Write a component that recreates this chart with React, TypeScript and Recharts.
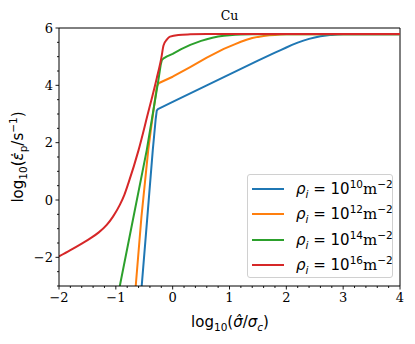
import React from 'react';
import { LineChart, Line, XAxis, YAxis, ReferenceLine } from 'recharts';

const xRho10 = [-0.545, -0.45, -0.35, -0.3, -0.28, -0.26, 0, 0.6, 1.0, 1.5, 1.8, 1.9, 2.0, 2.1, 2.2, 2.3, 2.4, 2.5, 2.6, 2.7, 2.8, 2.9, 3.0, 3.2, 4.0];
const yRho10 = [-3.0, -0.7, 1.74, 2.8, 3.12, 3.17, 3.42, 4.0, 4.38, 4.86, 5.14, 5.23, 5.32, 5.41, 5.49, 5.56, 5.62, 5.67, 5.71, 5.74, 5.76, 5.77, 5.78, 5.78, 5.78];

const xRho12 = [-0.65, -0.55, -0.43, -0.35, -0.28, -0.26, -0.23, 0, 0.3, 0.6, 0.9, 1.1, 1.2, 1.3, 1.4, 1.5, 1.6, 1.7, 1.8, 1.9, 2.0, 2.2, 4.0];
const yRho12 = [-3.0, -0.6, 1.74, 2.95, 3.95, 4.04, 4.09, 4.3, 4.63, 4.97, 5.27, 5.44, 5.52, 5.59, 5.65, 5.69, 5.72, 5.745, 5.76, 5.77, 5.78, 5.78, 5.78];

const xRho14 = [-0.93, -0.7, -0.456, -0.35, -0.25, -0.21, -0.19, -0.16, -0.1, 0, 0.15, 0.31, 0.5, 0.6, 0.7, 0.8, 0.9, 1.0, 1.1, 1.2, 1.4, 4.0];
const yRho14 = [-3.0, -0.7, 1.74, 3.0, 4.2, 4.72, 4.88, 4.94, 5.01, 5.1, 5.26, 5.41, 5.55, 5.61, 5.66, 5.7, 5.73, 5.75, 5.765, 5.775, 5.78, 5.78];

const xRho16 = [-2.0, -1.8, -1.6, -1.45, -1.3, -1.16, -1.05, -0.93, -0.85, -0.78, -0.6, -0.45, -0.28, -0.2, -0.16, -0.1, -0.046, 0.1, 0.31, 0.6, 4.0];
const yRho16 = [-1.97, -1.75, -1.52, -1.34, -1.13, -0.87, -0.58, -0.17, 0.18, 0.58, 1.74, 2.9, 4.25, 4.95, 5.4, 5.6, 5.7, 5.76, 5.78, 5.79, 5.79];

const seriesExponents = ['10', '12', '14', '16'];
const seriesColors = ['#1f77b4', '#ff7f0e', '#2ca02c', '#d62728'];
const seriesCurve: ('linear' | 'monotone')[] = ['linear', 'linear', 'linear', 'monotone'];

const xTicks = [-2, -1.8, -1.6, -1.4, -1.2, -1, -0.8, -0.6, -0.4, -0.2, 0, 0.2, 0.4, 0.6, 0.8, 1, 1.2, 1.4, 1.6, 1.8, 2, 2.2, 2.4, 2.6, 2.8, 3, 3.2, 3.4, 3.6, 3.8, 4];
const yTicks = [-3, -2.5, -2, -1.5, -1, -0.5, 0, 0.5, 1, 1.5, 2, 2.5, 3, 3.5, 4, 4.5, 5, 5.5, 6];
const xMajorLabels = [-2, -1, 0, 1, 2, 3, 4];
const yMajorLabels = [-2, 0, 2, 4, 6];

const toPoints = (xs: number[], ys: number[]) => xs.map((x, i) => ({ x, y: ys[i] }));
const seriesData = [toPoints(xRho10, yRho10), toPoints(xRho12, yRho12), toPoints(xRho14, yRho14), toPoints(xRho16, yRho16)];

const fmt = (v: number) => (v < 0 ? '\u2212' + Math.abs(v) : String(v));
const isMajor = (v: number, list: number[]) => list.some((m) => Math.abs(m - v) < 1e-6);

const XTick = (props: any) => {
  const { x, y, payload } = props;
  const major = isMajor(payload.value, xMajorLabels);
  return (
    <g>
      <line x1={x} x2={x} y1={y} y2={y + (major ? 3.5 : 2)} stroke="#000" strokeWidth={0.9} />
      {major && (
        <text x={x} y={y + 16} textAnchor="middle" fontFamily="DejaVu Serif" fontSize={13} fill="#000">
          {fmt(payload.value)}
        </text>
      )}
    </g>
  );
};

const YTick = (props: any) => {
  const { x, y, payload } = props;
  const major = isMajor(payload.value, yMajorLabels);
  return (
    <g>
      <line x1={x - (major ? 3.5 : 2)} x2={x} y1={y} y2={y} stroke="#000" strokeWidth={0.9} />
      {major && (
        <text x={x - 6} y={y} dy="0.35em" textAnchor="end" fontFamily="DejaVu Serif" fontSize={13} fill="#000">
          {fmt(payload.value)}
        </text>
      )}
    </g>
  );
};

export default function App() {
  return (
    <div style={{ position: 'absolute', left: 0, top: 0, width: 415, height: 344, background: '#fff' }}>
      <LineChart width={415} height={344} margin={{ top: 28, right: 15, bottom: 0, left: 0 }}>
        <XAxis
          type="number"
          dataKey="x"
          domain={[-2, 4]}
          ticks={xTicks}
          interval={0}
          tickSize={0}
          tickMargin={0}
          tickLine={false}
          tick={<XTick />}
          height={58}
          allowDataOverflow
          axisLine={{ stroke: '#000', strokeWidth: 1 }}
        />
        <YAxis
          type="number"
          dataKey="y"
          domain={[-3, 6]}
          ticks={yTicks}
          interval={0}
          tickSize={0}
          tickMargin={0}
          tickLine={false}
          tick={<YTick />}
          width={59}
          allowDataOverflow
          axisLine={{ stroke: '#000', strokeWidth: 1 }}
        />
        <ReferenceLine y={6} stroke="#000" strokeWidth={1} />
        <ReferenceLine x={4} stroke="#000" strokeWidth={1} />
        {seriesData.map((d, i) => (
          <Line
            key={i}
            data={d}
            dataKey="y"
            type={seriesCurve[i]}
            stroke={seriesColors[i]}
            strokeWidth={2}
            strokeLinejoin="round"
            dot={false}
            activeDot={false}
            isAnimationActive={false}
          />
        ))}
      </LineChart>
      <div style={{ position: 'absolute', left: 229.5, top: 15, transform: 'translate(-50%, -50%)', fontFamily: 'DejaVu Serif', fontSize: 12.5, whiteSpace: 'nowrap' }}>
        Cu
      </div>
      <div style={{ position: 'absolute', left: 230, top: 323, transform: 'translate(-50%, -50%)', fontFamily: 'DejaVu Sans', fontSize: 15, whiteSpace: 'nowrap' }}>
        log<sub style={{ fontSize: 10.5 }}>10</sub>(<i>σ̂</i>/<i>σ</i><sub style={{ fontSize: 10.5 }}><i>c</i></sub>)
      </div>
      <div style={{ position: 'absolute', left: 18, top: 157, transform: 'translate(-50%, -50%) rotate(-90deg)', fontFamily: 'DejaVu Sans', fontSize: 15, whiteSpace: 'nowrap' }}>
        log<sub style={{ fontSize: 10.5 }}>10</sub>(<i>ε̇</i><sub style={{ fontSize: 10.5 }}>p</sub>/s<sup style={{ fontSize: 10.5 }}>−1</sup>)
      </div>
      <div style={{ position: 'absolute', left: 247, top: 174, width: 146, height: 104, border: '1px solid #d0d0d0', borderRadius: 3, boxSizing: 'border-box', background: 'rgba(255,255,255,0.8)' }}>
        {seriesExponents.map((e, i) => (
          <div key={e} style={{ position: 'absolute', left: 4, top: 6 + i * 25.3, height: 16, display: 'flex', alignItems: 'center', whiteSpace: 'nowrap' }}>
            <div style={{ width: 32, height: 2, background: seriesColors[i] }} />
            <div style={{ marginLeft: 12, fontFamily: 'DejaVu Sans', fontSize: 15, lineHeight: '16px' }}>
              <i>ρ</i><sub style={{ fontSize: 10.5 }}><i>i</i></sub> = 10<sup style={{ fontSize: 10.5 }}>{e}</sup>
              <span style={{ fontFamily: 'DejaVu Serif' }}>m</span><sup style={{ fontSize: 10.5 }}>−2</sup>
            </div>
          </div>
        ))}
      </div>
    </div>
  );
}
